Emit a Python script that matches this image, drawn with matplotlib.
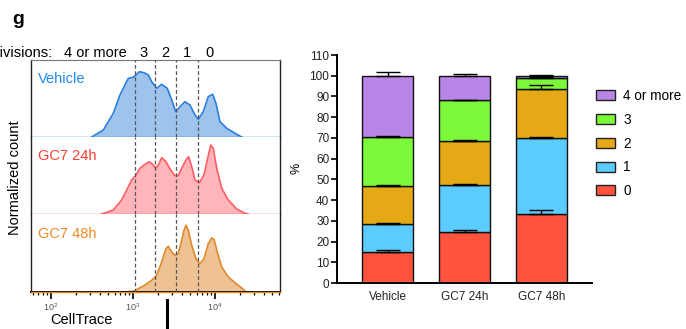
import numpy as np
import matplotlib
matplotlib.use("Agg")
import matplotlib.pyplot as plt
from matplotlib.lines import Line2D
from matplotlib.patches import Patch

plt.rcParams['font.family'] = ['Liberation Sans', 'DejaVu Sans']

# ---------- histogram traces (log10 CellTrace, height in arbitrary units) ----------
veh_log = [2.496, 2.638, 2.760, 2.841, 2.902, 2.943, 3.004, 3.037, 3.077, 3.134,
           3.187, 3.228, 3.289, 3.350, 3.418, 3.472, 3.521, 3.573, 3.634, 3.695,
           3.756, 3.796, 3.857, 3.918, 3.972, 4.012, 4.061, 4.143, 4.244, 4.326]
veh_h = [0, 7, 23.7, 42, 52, 58.7, 59.7, 62, 65.3, 64.3,
         62, 55.3, 48.7, 52.7, 48.7, 37, 25.3, 30.3, 35.3, 32,
         22, 17.7, 25.3, 40.3, 42.7, 33.7, 15.3, 8.7, 3.7, 0]

h24_log = [2.618, 2.760, 2.862, 2.923, 2.984, 3.037, 3.085, 3.134, 3.199, 3.240,
           3.280, 3.321, 3.350, 3.402, 3.460, 3.512, 3.552, 3.594, 3.646, 3.679,
           3.716, 3.756, 3.809, 3.866, 3.906, 3.948, 3.979, 4.021, 4.082, 4.162,
           4.265, 4.366, 4.402]
h24_h = [0, 4, 14, 24, 34, 39, 45.7, 49, 52.3, 49.7,
         45.7, 50.7, 56.3, 52.3, 44, 38.3, 38.3, 45.7, 54, 57.3,
         47.3, 34, 31.3, 39, 54, 69, 65.7, 45.7, 25.7, 14,
         5, 0.7, 0]

h48_log = [2.878, 3.004, 3.126, 3.228, 3.289, 3.350, 3.402, 3.430, 3.472, 3.512,
           3.552, 3.594, 3.622, 3.646, 3.674, 3.716, 3.768, 3.817, 3.866, 3.918,
           3.960, 3.988, 4.028, 4.082, 4.162, 4.244, 4.345, 4.378]
h48_h = [0, 0.7, 6, 11.7, 16.7, 30, 43.3, 45.7, 40, 36.7,
         38.3, 51.7, 61.7, 66.7, 61.7, 46.7, 33.3, 28.3, 33.3, 48.3,
         54, 52.7, 40, 25, 15, 9.3, 2.7, 0]

gate_log = [3.024, 3.268, 3.524, 3.793]
div_labels = ["4 or more", "3", "2", "1", "0"]
div_label_log = [2.537, 3.134, 3.390, 3.660, 3.939]

# ---------- stacked bar data (%) ----------
groups = ["Vehicle", "GC7 24h", "GC7 48h"]
div_names = ["0", "1", "2", "3", "4 or more"]
pct_0 = [14.8, 24.5, 33.2]
pct_1 = [13.5, 22.8, 36.7]
pct_2 = [18.5, 21.3, 23.5]
pct_3 = [23.4, 19.5, 5.6]
pct_4 = [29.8, 11.9, 1.0]
err_0 = [1.1, 1.0, 2.0]
err_1 = [0.5, 0.3, 0.6]
err_2 = [0.5, 0.3, 2.1]
err_3 = [0.8, 0.3, 0.3]
err_4 = [2.0, 0.8, 0.3]

bar_colors = ["#FF533D", "#5CCBFD", "#E4A915", "#7CF83A", "#B886E6"]

fig = plt.figure(figsize=(6.86, 3.29), dpi=100)
W, H = 686.0, 329.0

# ==========================================
# left: histogram overlay panels
# ==========================================
L = 31 / W
Wd = (280 - 31) / W
tops = [60, 137, 214]
bots = [137, 214, 292]
traces = [
    (veh_log, veh_h, "#9EC4EE", "#2A7FDB", "Vehicle", "#1E8BF0"),
    (h24_log, h24_h, "#FFB5BA", "#FF5C62", "GC7 24h", "#FF3B30"),
    (h48_log, h48_h, "#EFC293", "#E0892A", "GC7 48h", "#EE8A25"),
]
axes_l = []
for i, (xs, hs, fc, lc, name, tc) in enumerate(traces):
    ax = fig.add_axes([L, 1 - bots[i] / H, Wd, (bots[i] - tops[i]) / H])
    axes_l.append(ax)
    x = 10 ** np.array(xs)
    ax.fill_between(x, hs, 0, color=fc, lw=0)
    ax.plot(x, hs, color=lc, lw=1.2)
    ax.axhline(0, color=lc, lw=1.0, clip_on=False, zorder=3)
    for g in gate_log:
        ax.axvline(10 ** g, color="#555555", lw=0.9, ls=(0, (3, 2)), zorder=4)
    ax.set_xscale("log")
    ax.set_xlim(10 ** 1.756, 10 ** 4.793)
    ax.set_ylim(0, bots[i] - tops[i])
    ax.set_yticks([])
    ax.text(0.028, 0.75, name, transform=ax.transAxes, color=tc,
            fontsize=10.5, va="center", ha="left")
    ax.spines["top"].set_visible(i == 0)
    ax.spines["top"].set_color("#777777")
    ax.spines["bottom"].set_visible(i == 2)
    for s in ["left", "right"]:
        ax.spines[s].set_color("#222222")
        ax.spines[s].set_linewidth(1.0)
    if i < 2:
        ax.tick_params(axis="x", which="both", bottom=False, labelbottom=False)

axb = axes_l[2]
axb.spines["bottom"].set_linewidth(1.4)
axb.tick_params(axis="x", which="major", length=5, width=1.2, direction="out",
                labelsize=6.5, labelcolor="#555555", pad=2)
axb.tick_params(axis="x", which="minor", length=2.5, width=0.9, direction="out")

# division labels above the panel
top_ax = axes_l[0]
for lab, xl in zip(div_labels, div_label_log):
    top_ax.text(10 ** xl, 1 + 7 / 77, lab, transform=top_ax.get_xaxis_transform(),
                ha="center", va="center", fontsize=10.5)
fig.text(53 / W, 1 - 53 / H, "Divisions:", ha="right", va="center", fontsize=10.5)

fig.text(15 / W, 1 - 178 / H, "Normalized count", rotation=90,
         ha="center", va="center", fontsize=10.5)
fig.text(81 / W, 1 - 320 / H, "CellTrace", ha="center", va="center", fontsize=10.5)
fig.text(18 / W, 1 - 19 / H, "g", ha="center", va="center", fontsize=14,
         fontweight="bold")
fig.add_artist(Line2D([167 / W, 167 / W], [0, 1 - 300 / H],
                      transform=fig.transFigure, color="black", lw=2.2))

# ==========================================
# right: stacked bars
# ==========================================
ax2 = fig.add_axes([337 / W, 1 - 283 / H, (592 - 337) / W, (283 - 55) / H])
xpos = np.arange(len(groups))
segments = [pct_0, pct_1, pct_2, pct_3, pct_4]
errors = [err_0, err_1, err_2, err_3, err_4]
bottom = np.zeros(len(groups))
for seg, err, col in zip(segments, errors, bar_colors):
    seg = np.array(seg)
    ax2.bar(xpos, seg, 0.66, bottom=bottom, color=col, edgecolor="#111111",
            linewidth=1.0, zorder=2)
    top = bottom + seg
    ax2.errorbar(xpos, top, yerr=[np.zeros(len(groups)), err], fmt="none",
                 ecolor="black", elinewidth=1.0, capsize=8.5, capthick=1.0,
                 zorder=3)
    bottom = top

ax2.set_xlim(-0.66, 2.66)
ax2.set_ylim(0, 110)
ax2.set_yticks(np.arange(0, 111, 10))
ax2.set_xticks(xpos)
ax2.set_xticklabels(groups)
ax2.spines["top"].set_visible(False)
ax2.spines["right"].set_visible(False)
ax2.spines["left"].set_linewidth(1.4)
ax2.spines["bottom"].set_linewidth(1.4)
ax2.tick_params(axis="y", length=4, width=1.2, labelsize=8.5, pad=1.5,
                labelcolor="#222222")
ax2.tick_params(axis="x", length=0, labelsize=8.5, pad=6, labelcolor="#222222")
fig.text(297 / W, 1 - 168 / H, "%", rotation=90, ha="center", va="center",
         fontsize=9)

handles = [Patch(facecolor=c, edgecolor="#222222", linewidth=1.0)
           for c in bar_colors][::-1]
fig.legend(handles, div_names[::-1], loc="upper left",
           bbox_to_anchor=(596 / W, 1 - 89 / H), frameon=False, fontsize=9.8,
           handlelength=1.4, handleheight=0.75, labelspacing=0.72,
           handletextpad=0.6, borderaxespad=0, borderpad=0)

fig.savefig("out.png", dpi=100)
